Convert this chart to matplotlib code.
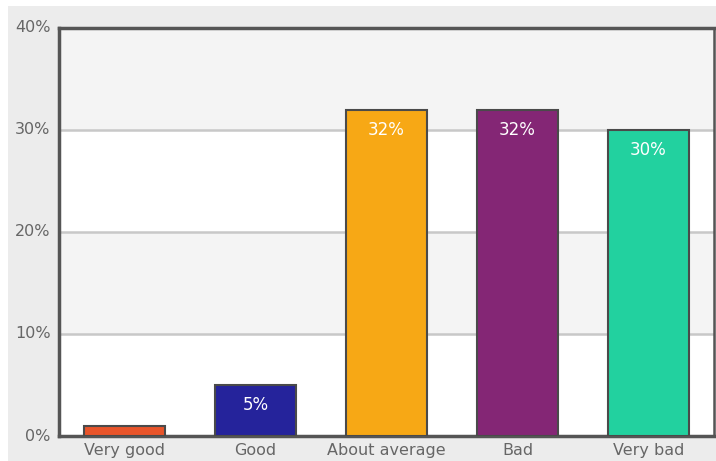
import matplotlib
matplotlib.use("Agg")
import matplotlib.pyplot as plt
from matplotlib.patches import Rectangle

categories = ["Very good", "Good", "About average", "Bad", "Very bad"]
values = [1, 5, 32, 32, 30]
colors = ["#e8542a", "#25239b", "#f7a815", "#842675", "#22d19f"]
shown_labels = [None, "5%", "32%", "32%", "30%"]
yticks = [0, 10, 20, 30, 40]

fig = plt.figure(figsize=(7.16, 4.61), dpi=100)
fig.patch.set_facecolor("white")
fig.patches.append(Rectangle((8 / 716, 0), 1, 1 - 6 / 461, transform=fig.transFigure,
                             facecolor="#ececec", edgecolor="none", zorder=-10))

ax = fig.add_axes([59 / 716, 25 / 461, 655 / 716, 408 / 461])
ax.set_facecolor("white")
ax.set_xlim(-0.5, len(categories) - 0.5)
ax.set_ylim(0, 40)

# alternating horizontal bands
for lo in (10, 30):
    ax.axhspan(lo, lo + 10, facecolor="#f4f4f4", edgecolor="none", zorder=0)
for t in (10, 20, 30):
    ax.axhline(t, color="#c8c8c8", lw=1.8, zorder=1)

x = range(len(categories))
ax.bar(x, values, width=0.62, color=colors, edgecolor="#4a4a4a", linewidth=1.5, zorder=3)

for xi, v, lab in zip(x, values, shown_labels):
    if lab:
        ax.text(xi, v - 2.0, lab, ha="center", va="center", color="white",
                fontsize=12, zorder=4)

ax.set_xticks(list(x))
ax.set_xticklabels(categories)
ax.set_yticks(yticks)
ax.set_yticklabels([f"{t}%" for t in yticks])
ax.tick_params(length=0, colors="#666666", labelsize=11.5)
ax.tick_params(axis="x", pad=5)
ax.tick_params(axis="y", pad=6)
for lab in ax.get_yticklabels():
    lab.set_verticalalignment("center")

for side in ("left", "top", "bottom"):
    ax.spines[side].set_color("#555555")
    ax.spines[side].set_linewidth(2.5)
ax.spines["right"].set_color("#555555")
ax.spines["right"].set_linewidth(1.8)

fig.savefig("out.png", dpi=100, facecolor=fig.get_facecolor())
